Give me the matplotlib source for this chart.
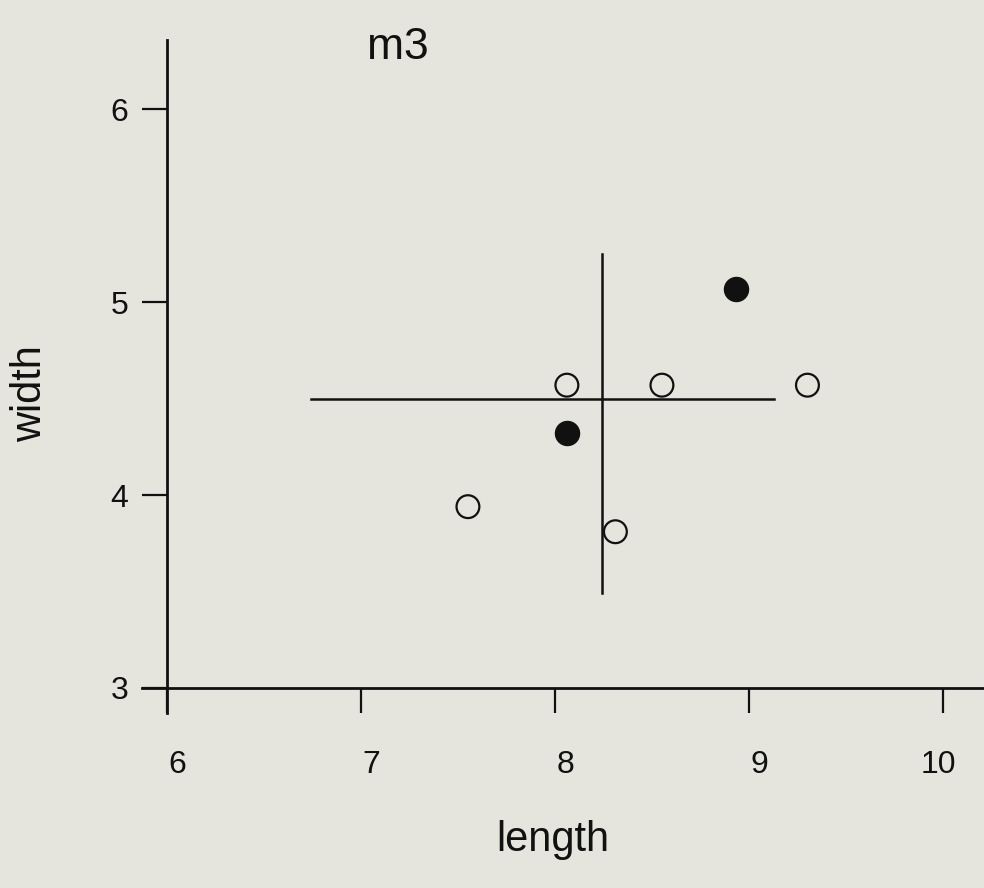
import matplotlib.pyplot as plt
import matplotlib.transforms as mtransforms

# Data
open_x = [7.55, 8.06, 8.55, 9.30, 8.31]
open_y = [3.94, 4.57, 4.57, 4.57, 3.81]
filled_x = [8.06, 8.93]
filled_y = [4.32, 5.07]

# centre cross (mean lines)
h_y = 4.50
h_x = [6.74, 9.13]
v_x = 8.24
v_y = [3.49, 5.25]

xticks = [6, 7, 8, 9, 10]
yticks = [3, 4, 5, 6]

plt.rcParams.update({'font.family': ['Liberation Sans', 'DejaVu Sans']})
bg = '#e5e5de'

fig = plt.figure(figsize=(9.84, 8.88), dpi=100, facecolor=bg)
ax = fig.add_axes([142 / 984, 1 - 713 / 888, 842 / 984, 673 / 888])
ax.set_facecolor(bg)

ax.set_xlim(5.87, 10.21)
ax.set_ylim(2.87, 6.36)

# axes crossing at (6, 3)
for s in ['top', 'right']:
    ax.spines[s].set_visible(False)
ax.spines['bottom'].set_position(('data', 3))
ax.spines['left'].set_position(('data', 6))
for s in ['bottom', 'left']:
    ax.spines[s].set_linewidth(2)
    ax.spines[s].set_color('#111111')

ax.set_xticks(xticks)
ax.set_yticks(yticks)
ax.tick_params(axis='x', direction='out', length=18, width=1.6, pad=27, labelsize=23, colors='#111111')
ax.tick_params(axis='y', direction='out', length=18, width=1.6, pad=10, labelsize=23, colors='#111111')

# the scanned labels sit a little off their ticks
for lab in ax.get_xticklabels():
    dx = -5 if lab.get_text() == '10' else 10
    lab.set_transform(lab.get_transform() + mtransforms.ScaledTranslation(dx / 100, 0, fig.dpi_scale_trans))

# cross lines
ax.plot(h_x, [h_y, h_y], color='#111111', lw=1.8)
ax.plot([v_x, v_x], v_y, color='#111111', lw=1.8)

# points
ax.scatter(open_x, open_y, s=270, facecolors='none', edgecolors='#111111', linewidths=1.6, zorder=3)
ax.scatter(filled_x, filled_y, s=300, color='#111111', zorder=3)

ax.text(7.19, 6.32, 'm3', fontsize=32, ha='center', va='center', color='#111111')

ax.set_xlabel('length', fontsize=30, color='#111111')
ax.xaxis.set_label_coords(0.488, -0.189)
ax.xaxis.label.set_va('center')
ax.set_ylabel('width', fontsize=30, color='#111111')
ax.yaxis.set_label_coords(-0.133, 0.475)
ax.yaxis.label.set_va('center')

fig.savefig('out.png', dpi=100, facecolor=bg)
